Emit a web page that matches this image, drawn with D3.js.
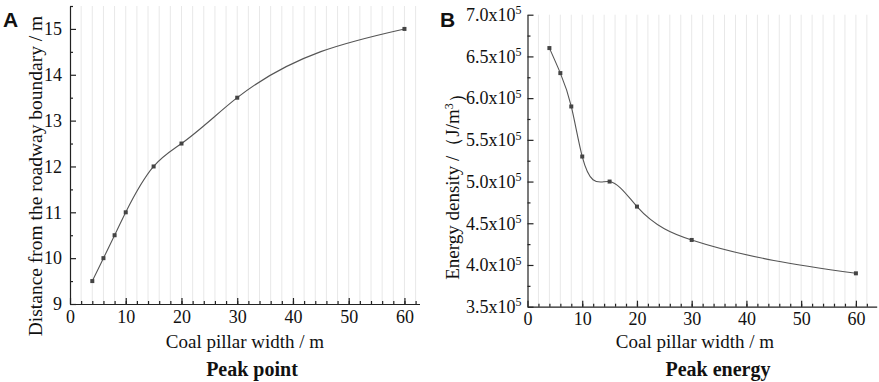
<!DOCTYPE html>
<html>
<head>
<meta charset="utf-8">
<script src="https://cdn.jsdelivr.net/npm/d3@7"></script>
<style>
  body { margin: 0; background: #fff; }
  text { font-family: "Liberation Serif", "Times New Roman", serif; fill: #111; }
  .panel-letter { font-family: "Liberation Sans", Arial, sans-serif; font-weight: bold; }
</style>
</head>
<body>
<div id="chart"></div>
<script>
// Panel A: peak point position
const widthA = [4, 6, 8, 10, 15, 20, 30, 60];
const distanceA = [9.5, 10, 10.5, 11, 12, 12.5, 13.5, 15];
const yTicksA = [9, 10, 11, 12, 13, 14, 15];

// Panel B: peak energy (x10^5 J/m3)
const widthB = [4, 6, 8, 10, 15, 20, 30, 60];
const energyB = [6.6, 6.3, 5.9, 5.3, 5.0, 4.7, 4.3, 3.9];
const yTicksB = [3.5, 4.0, 4.5, 5.0, 5.5, 6.0, 6.5, 7.0];

const xTicks = [0, 10, 20, 30, 40, 50, 60];

const W = 879, H = 382;
const serif = '"Liberation Serif", "Times New Roman", serif';
const svg = d3.select('#chart').append('svg')
    .attr('width', W)
    .attr('height', H);

// natural cubic spline y(x), drawn as bezier segments (like Origin's "Spline" connect)
function curveSplineX(context) {
    let pts;
    return {
        areaStart() {}, areaEnd() {},
        lineStart() { pts = []; },
        point(x, y) { pts.push([+x, +y]); },
        lineEnd() {
            const n = pts.length - 1;
            if (n < 0) return;
            context.moveTo(pts[0][0], pts[0][1]);
            if (n === 0) return;
            const h = [], M = new Array(n + 1).fill(0);
            for (let i = 0; i < n; i++) h.push(pts[i + 1][0] - pts[i][0]);
            // tridiagonal solve for second derivatives
            const a = [], b = [], c = [], r = [];
            for (let i = 1; i < n; i++) {
                a.push(h[i - 1]);
                b.push(2 * (h[i - 1] + h[i]));
                c.push(h[i]);
                r.push(6 * ((pts[i + 1][1] - pts[i][1]) / h[i] - (pts[i][1] - pts[i - 1][1]) / h[i - 1]));
            }
            const m = b.length;
            for (let i = 1; i < m; i++) {
                const w = a[i] / b[i - 1];
                b[i] -= w * c[i - 1];
                r[i] -= w * r[i - 1];
            }
            for (let i = m - 1; i >= 0; i--) {
                M[i + 1] = (r[i] - (i < m - 1 ? c[i] * M[i + 2] : 0)) / b[i];
            }
            for (let i = 0; i < n; i++) {
                const [x0, y0] = pts[i], [x1, y1] = pts[i + 1], hi = h[i];
                const s = (y1 - y0) / hi;
                const d0 = s - hi * (2 * M[i] + M[i + 1]) / 6;
                const d1 = s + hi * (M[i] + 2 * M[i + 1]) / 6;
                context.bezierCurveTo(x0 + hi / 3, y0 + d0 * hi / 3, x1 - hi / 3, y1 - d1 * hi / 3, x1, y1);
            }
        }
    };
}

function drawPanel(opt) {
    const g = svg.append('g');
    const x = d3.scaleLinear().domain(opt.xDomain).range([opt.left, opt.right]);
    const y = d3.scaleLinear().domain(opt.yDomain).range([opt.bottom, opt.top]);

    // light vertical grid at every minor tick
    const gridVals = d3.range(2, opt.xDomain[1], 2);
    g.selectAll('.grid')
        .data(gridVals)
        .enter()
        .append('line')
        .attr('x1', d => x(d)).attr('x2', d => x(d))
        .attr('y1', opt.top).attr('y2', opt.bottom)
        .attr('stroke', '#e8e8e8')
        .attr('stroke-width', 1);

    // minor ticks
    g.append('g')
        .attr('transform', `translate(0,${opt.bottom})`)
        .call(d3.axisBottom(x).tickValues(gridVals).tickSize(-3).tickFormat(''))
        .call(a => a.select('.domain').remove())
        .selectAll('line').attr('stroke', '#222').attr('stroke-width', 1.2);
    g.append('g')
        .attr('transform', `translate(${opt.left},0)`)
        .call(d3.axisLeft(y).tickValues(opt.yMinor).tickSize(-3).tickFormat(''))
        .call(a => a.select('.domain').remove())
        .selectAll('line').attr('stroke', '#222').attr('stroke-width', 1.2);

    // major axes
    const xAxis = g.append('g')
        .attr('transform', `translate(0,${opt.bottom})`)
        .call(d3.axisBottom(x).tickValues(xTicks).tickFormat(d3.format('d'))
            .tickSize(-6).tickSizeOuter(0).tickPadding(6));
    const yAxis = g.append('g')
        .attr('transform', `translate(${opt.left},0)`)
        .call(d3.axisLeft(y).tickValues(opt.yTicks).tickFormat(opt.yFormat)
            .tickSize(-6).tickSizeOuter(0).tickPadding(opt.yPad));

    [xAxis, yAxis].forEach(a => {
        a.attr('font-family', serif).attr('font-size', 18);
        a.selectAll('path, line').attr('stroke', '#222').attr('stroke-width', 1.2);
        a.selectAll('text')
            .style('font-family', serif)
            .style('font-size', '18px')
            .attr('fill', '#111');
    });

    if (opt.sciLabels) {
        yAxis.selectAll('.tick text').each(function (d) {
            const t = d3.select(this);
            t.text(null);
            t.append('tspan').text(d3.format('.1f')(d) + 'x10');
            t.append('tspan').attr('dy', '-0.55em').style('font-size', '12px').text('5');
        });
    }

    const line = d3.line()
        .x(d => x(d[0]))
        .y(d => y(d[1]))
        .curve(curveSplineX);
    const pts = opt.xs.map((v, i) => [v, opt.ys[i]]);

    g.append('path')
        .datum(pts)
        .attr('d', line)
        .attr('fill', 'none')
        .attr('stroke', '#555')
        .attr('stroke-width', 1.1);

    g.selectAll('.pt')
        .data(pts)
        .enter()
        .append('rect')
        .attr('x', d => x(d[0]) - 2)
        .attr('y', d => y(d[1]) - 2)
        .attr('width', 4)
        .attr('height', 4)
        .attr('fill', '#444');

    // titles
    g.append('text')
        .attr('x', opt.xTitleX)
        .attr('y', 348)
        .attr('text-anchor', 'middle')
        .style('font-size', '19px')
        .text('Coal pillar width / m');

    g.append('text')
        .attr('x', opt.captionX)
        .attr('y', 376)
        .attr('text-anchor', 'middle')
        .style('font-size', '20px')
        .style('font-weight', 'bold')
        .text(opt.caption);

    const yt = g.append('text')
        .attr('transform', `translate(${opt.yTitleX},${opt.yTitleY}) rotate(-90)`)
        .attr('text-anchor', 'middle')
        .style('font-size', opt.yTitleSize);
    opt.yTitle(yt);

    g.append('text')
        .attr('class', 'panel-letter')
        .attr('x', opt.letterX)
        .attr('y', 27)
        .style('font-size', '21px')
        .text(opt.letter);
}

drawPanel({
    xs: widthA, ys: distanceA,
    xDomain: [0, 62.7], yDomain: [9, 15.5],
    left: 70, right: 419.5, top: 6, bottom: 304,
    yTicks: yTicksA, yMinor: d3.range(9.5, 15.6, 1), yFormat: d3.format('d'),
    yPad: 8, sciLabels: false,
    xTitleX: 245, captionX: 252, caption: 'Peak point',
    yTitleX: 42, yTitleY: 176, yTitleSize: '19.5px',
    yTitle: t => t.text('Distance from the roadway boundary / m'),
    letter: 'A', letterX: 3
});

drawPanel({
    xs: widthB, ys: energyB,
    xDomain: [0, 63.8], yDomain: [3.5, 7.0],
    left: 527.5, right: 876.7, top: 14.7, bottom: 306.7,
    yTicks: yTicksB, yMinor: d3.range(3.75, 7.0, 0.5), yFormat: d3.format('.1f'),
    yPad: 6, sciLabels: true,
    xTitleX: 695, captionX: 718, caption: 'Peak energy',
    yTitleX: 459, yTitleY: 182, yTitleSize: '19px',
    yTitle: t => {
        t.append('tspan').text('Energy density /（J/m');
        t.append('tspan').attr('dy', '-0.5em').style('font-size', '12px').text('3');
        t.append('tspan').attr('dy', '0.5em').text('）');
    },
    letter: 'B', letterX: 440
});
</script>
</body>
</html>
